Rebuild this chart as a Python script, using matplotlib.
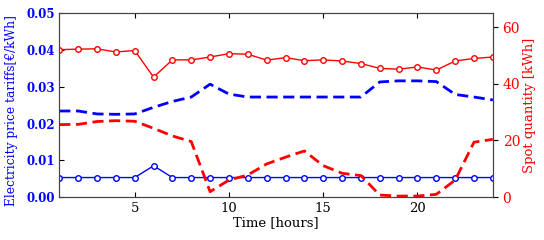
import numpy as np
import matplotlib
matplotlib.use("Agg")
import matplotlib.pyplot as plt

# hourly data
hours = np.arange(1, 25)
price_dashed = [0.0234, 0.0234, 0.0226, 0.0225, 0.0226, 0.0244, 0.0260, 0.0272,
                0.0307, 0.0280, 0.0272, 0.0272, 0.0272, 0.0272, 0.0272, 0.0272,
                0.0272, 0.0313, 0.0316, 0.0316, 0.0314, 0.0279, 0.0272, 0.0264]
price_marked = [0.0053, 0.0053, 0.0053, 0.0053, 0.0053, 0.0085, 0.0053, 0.0053,
                0.0053, 0.0053, 0.0053, 0.0053, 0.0053, 0.0053, 0.0053, 0.0053,
                0.0053, 0.0053, 0.0053, 0.0053, 0.0053, 0.0053, 0.0053, 0.0053]
spot_marked = [52.1, 52.3, 52.4, 51.3, 51.8, 42.4, 48.5, 48.5, 49.5, 50.7, 50.5, 48.4,
               49.3, 48.2, 48.5, 48.1, 47.2, 45.5, 45.2, 46.0, 44.9, 48.1, 49.0, 49.5]
spot_dashed = [25.6, 25.7, 26.7, 27.0, 26.8, 24.3, 21.6, 19.6, 1.9, 6.0, 7.8, 11.7,
               14.1, 16.3, 11.1, 8.4, 7.6, 0.7, 0.35, 0.35, 0.95, 6.0, 19.4, 20.4]

plt.rcParams['font.family'] = ['DejaVu Serif']

fig = plt.figure(figsize=(5.44, 2.4), dpi=100)
ax = fig.add_axes([0.109, 0.179, 0.797, 0.766])
ax2 = ax.twinx()

ax.plot(hours, price_dashed, '--', color='#0000ff', lw=2, dashes=(4, 2))
ax.plot(hours, price_marked, '-o', color='#0000ff', lw=1, ms=4, mfc='white', mew=1)
ax2.plot(hours, spot_marked, '-o', color='#ff0000', lw=1, ms=4, mfc='white', mew=1)
ax2.plot(hours, spot_dashed, '--', color='#ff0000', lw=2, dashes=(4, 2))

ax.set_xlim(1, 24)
ax.set_ylim(0, 0.05)
ax2.set_ylim(0, 65)
ax.set_xticks([5, 10, 15, 20])
ax.set_yticks([0, 0.01, 0.02, 0.03, 0.04, 0.05])
ax.set_yticklabels(['0.00', '0.01', '0.02', '0.03', '0.04', '0.05'])
ax2.set_yticks([0, 20, 40, 60])

ax.tick_params(axis='x', direction='in', labelsize=9.5, top=True)
ax.tick_params(axis='y', direction='in', labelsize=8.5, labelcolor='#0000ff', pad=3)
for lbl in ax.get_yticklabels():
    lbl.set_fontweight('bold')
ax2.tick_params(axis='y', direction='out', labelsize=10, labelcolor='#ff0000')

ax.set_xlabel('Time [hours]', fontsize=9.5, labelpad=1)
ax.set_ylabel('Electricity price tariffs[€/kWh]', fontsize=8.8, color='#0000ff')
ax.yaxis.set_label_coords(-0.095, 0.47)
ax2.set_ylabel('Spot quantity [kWh]', fontsize=9.5, color='#ff0000', labelpad=2)

for a in (ax, ax2):
    for s in a.spines.values():
        s.set_color('#444444')

fig.savefig('out.png', dpi=100)
